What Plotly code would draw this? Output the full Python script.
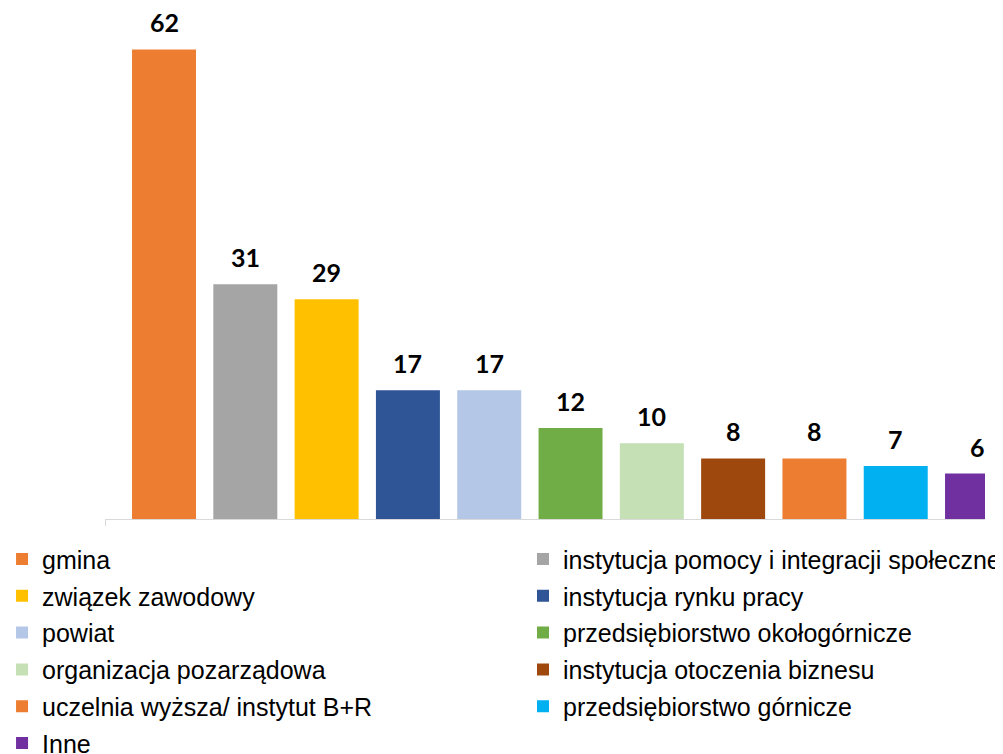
import plotly.graph_objects as go

categories = [
    "gmina",
    "instytucja pomocy i integracji społecznej",
    "związek zawodowy",
    "instytucja rynku pracy",
    "powiat",
    "przedsiębiorstwo okołogórnicze",
    "organizacja pozarządowa",
    "instytucja otoczenia biznesu",
    "uczelnia wyższa/ instytut B+R",
    "przedsiębiorstwo górnicze",
    "Inne",
]
values = [62, 31, 29, 17, 17, 12, 10, 8, 8, 7, 6]
colors = ["#ED7D31", "#A5A5A5", "#FFC000", "#2F5597", "#B4C7E7", "#70AD47",
          "#C5E0B4", "#9E480E", "#ED7D31", "#00B0F0", "#7030A0"]

x_start = -0.726
x_end = 10.098

fig = go.Figure()
for i, (cat, val, col) in enumerate(zip(categories, values, colors)):
    fig.add_trace(go.Bar(
        x=[cat], y=[val], name=cat,
        marker=dict(color=col, line=dict(width=0)),
        legend="legend" if i % 2 == 0 else "legend2",
        legendgroup=cat,
        hoverinfo="x+y",
    ))
    fig.add_annotation(
        x=cat, y=val, text=str(val), showarrow=False,
        yanchor="bottom", yshift=10,
        font=dict(family="Lato", size=25, color="#000000", weight="bold"),
    )

legend_common = dict(
    orientation="v", yanchor="top", xanchor="left",
    font=dict(family="Liberation Sans, Arial", size=25, color="#000000"),
    bgcolor="rgba(0,0,0,0)", tracegroupgap=1.3, traceorder="grouped",
)

fig.update_layout(
    width=995, height=746,
    paper_bgcolor="white", plot_bgcolor="white",
    margin=dict(l=97, r=18, t=2, b=235, autoexpand=False),
    barmode="relative", bargap=0.213,
    showlegend=True,
    legend=dict(x=-0.117, y=-0.0339, **legend_common),
    legend2=dict(x=0.475, y=-0.0339, **legend_common),
    xaxis=dict(
        type="category", categoryorder="array", categoryarray=categories,
        range=[x_start, x_end], showline=True, linecolor="#D9D9D9", linewidth=1,
        showticklabels=False, tickmode="array", tickvals=[x_start], ticktext=[""],
        ticks="outside", ticklen=6, tickcolor="#D9D9D9", tickwidth=1,
        showgrid=False, zeroline=False,
    ),
    yaxis=dict(range=[0, 67.2], visible=False),
)

fig.write_html("out.html")
